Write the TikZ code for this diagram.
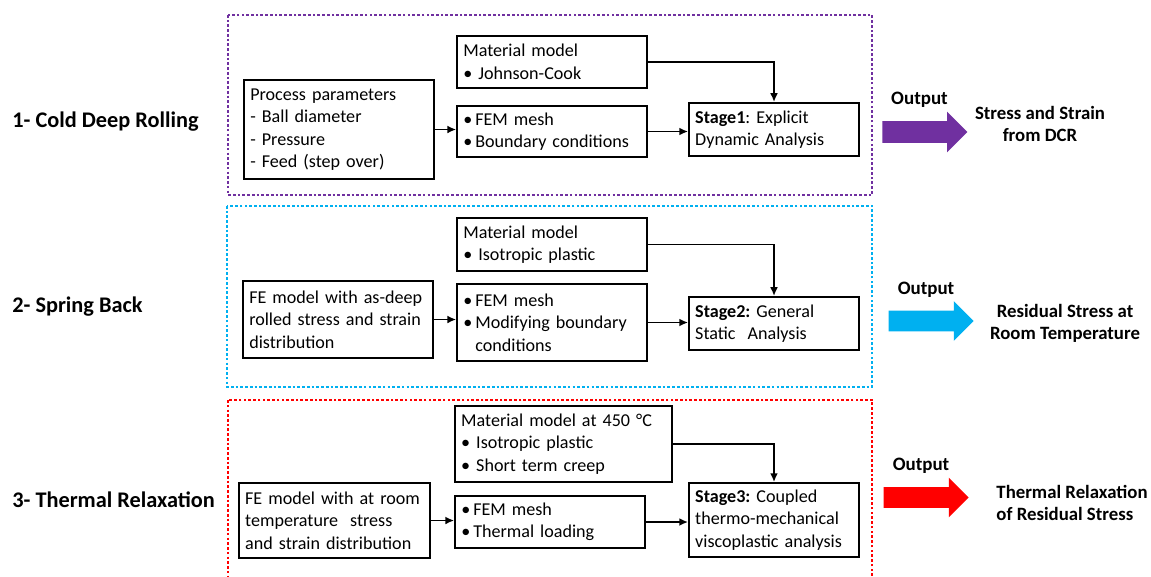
\documentclass[tikz,border=0pt]{standalone}
\usepackage{fontspec}
\setmainfont{Carlito}
\usetikzlibrary{arrows.meta,positioning,shapes.arrows}
\definecolor{dcrpurple}{RGB}{112,48,160}
\definecolor{sbcyan}{RGB}{0,176,240}
\definecolor{trred}{RGB}{255,0,0}
\frenchspacing

\begin{document}
\begin{tikzpicture}[x=0.02cm, y=-0.02cm, >={Latex[length=5pt,width=4.5pt]}]

  \tikzstyle{box} = [draw, line width=1.1pt, align=left, inner xsep=3.5pt, inner ysep=2pt, font=\fontsize{10.3}{12.8}\selectfont]
  \tikzstyle{frame} = [line width=1.6pt, dash pattern=on 1.5pt off 1.2pt]
  \tikzstyle{stagename} = [anchor=west, inner sep=0pt, font=\fontsize{12.7}{15}\selectfont\bfseries]
  \tikzstyle{outarrow} = [single arrow, single arrow head extend=5.4pt, inner xsep=0pt, inner ysep=0pt, minimum height=48.4pt]
  \tikzstyle{outlabel} = [font=\fontsize{10.8}{12.5}\selectfont\bfseries]
  \tikzstyle{result} = [font=\fontsize{10.7}{12.5}\selectfont\bfseries]
  \tikzstyle{link} = [->, line width=1.1pt]

  \clip (0,0) rectangle (1151,576);

  % 1- cold deep rolling
  \draw[frame, dcrpurple] (228,15) rectangle (872,195);
  \node[stagename] (name1) at (12,122) {1- Cold Deep Rolling};
  \node[box, text width=101pt, minimum height=56.3pt] (proc1) at (339,129.5)
    {Process parameters\\- Ball diameter\\- Pressure\\- Feed (step over)};
  \node[box, text width=101pt, minimum height=29.6pt] (mat1) at (552,62)
    {Material model\\\textbullet\ Johnson-Cook};
  \node[box, text width=101pt, minimum height=29pt] (fem1) at (552,131.5)
    {\textbullet\,FEM mesh\\\textbullet\,Boundary conditions};
  \node[box, text width=89.7pt, minimum height=30.2pt] (stage1) at (774,129.5)
    {\textbf{Stage1}: Explicit\\Dynamic Analysis};
  \draw[link] (proc1.east) -- (proc1.east -| fem1.west);
  \draw[link] (fem1.east) -- (fem1.east -| stage1.west);
  \draw[link] (mat1.east) -| (stage1.north);
  \node[outarrow, fill=dcrpurple] (out1) at (919.5,132) {\rule{0pt}{11.9pt}};
  \node[outlabel, above=4pt of out1] (lab1) {Output};
  \node[result, align=center] (res1) at (1040,124) {Stress and Strain\\from DCR};

  % 2- spring back
  \draw[frame, sbcyan] (227,206) rectangle (872,387);
  \node[stagename] (name2) at (12,307) {2- Spring Back};
  \node[box, text width=101pt, minimum height=43.8pt] (fe2) at (338,319.5)
    {FE model with as-deep\\rolled stress and strain\\distribution};
  \node[box, text width=101pt, minimum height=30.2pt] (mat2) at (552,244.5)
    {Material model\\\textbullet\ Isotropic plastic};
  \node[box, text width=101pt, minimum height=43.8pt] (fem2) at (552,322.5)
    {\textbullet\,FEM mesh\\\textbullet\,Modifying boundary\\\phantom{\textbullet\,}conditions};
  \node[box, text width=89.7pt, minimum height=30.2pt] (stage2) at (774,323.5)
    {\textbf{Stage2:} General\\Static~~Analysis};
  \draw[link] (fe2.east) -- (fe2.east -| fem2.west);
  \draw[link] (fem2.east) -- (fem2.east -| stage2.west);
  \draw[link] (mat2.east) -| (stage2.north);
  \node[outarrow, fill=sbcyan] (out2) at (926,321) {\rule{0pt}{11.4pt}};
  \node[outlabel, above=4pt of out2] (lab2) {Output};
  \node[result, align=center] (res2) at (1065,323) {Residual Stress at\\Room Temperature};

  % 3- thermal relaxation
  \draw[frame, trred] (228,400) rectangle (872,600);
  \node[stagename] (name3) at (12,500) {3- Thermal Relaxation};
  \node[box, text width=101.7pt, minimum height=42.7pt] (fe3) at (334.5,520.5)
    {FE model with at room\\temperature~~stress\\and strain distribution};
  \node[box, text width=116.5pt, minimum height=43.2pt] (mat3) at (563.5,444)
    {Material model at 450 °C\\\textbullet\ Isotropic plastic\\\textbullet\ Short term creep};
  \node[box, text width=101pt, minimum height=29.6pt] (fem3) at (550,522)
    {\textbullet\,FEM mesh\\\textbullet\,Thermal loading};
  \node[box, text width=89.7pt, minimum height=42.1pt] (stage3) at (774,520)
    {\textbf{Stage3:} Coupled\\thermo-mechanical\\viscoplastic analysis};
  \draw[link] (fe3.east) -- (fe3.east -| fem3.west);
  \draw[link] (fem3.east) -- (fem3.east -| stage3.west);
  \draw[link] (mat3.east) -| (stage3.north);
  \node[outarrow, fill=trred] (out3) at (921,497.5) {\rule{0pt}{11.4pt}};
  \node[outlabel, above=4pt of out3] (lab3) {Output};
  \node[result, align=left] (res3) at (1072,502.5) {Thermal Relaxation\\of Residual Stress};

\end{tikzpicture}
\end{document}
